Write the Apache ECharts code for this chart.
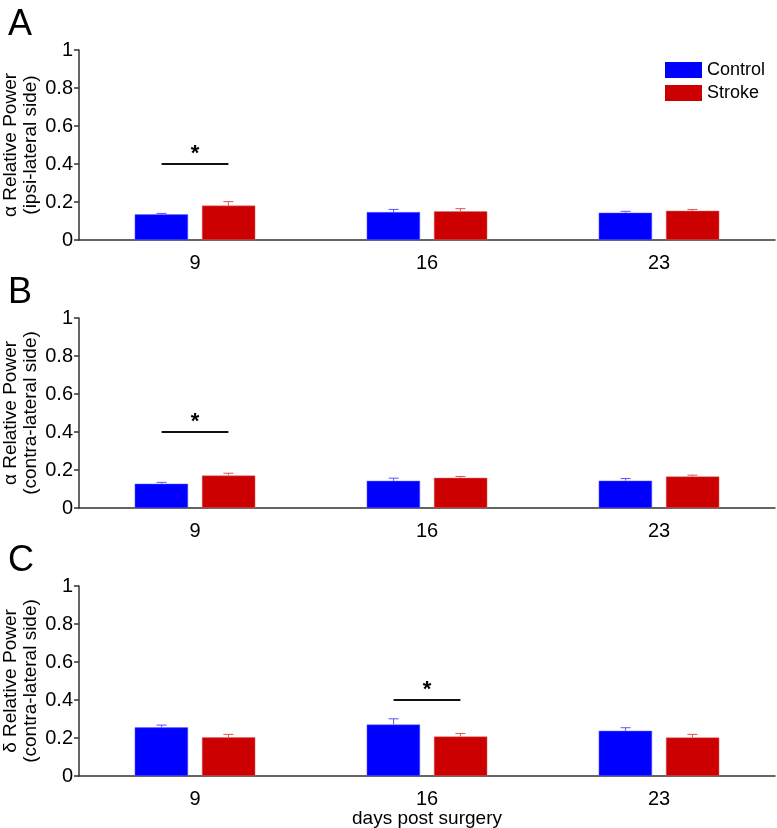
<!DOCTYPE html>
<html>
<head>
<meta charset="utf-8">
<script src="https://cdn.jsdelivr.net/npm/echarts@6/dist/echarts.min.js"></script>
<style>
html,body{margin:0;padding:0;background:#fff;}
#chart{width:777px;height:828px;}
</style>
</head>
<body>
<div id="chart"></div>
<script>
var days = ['9', '16', '23'];
var yTicks = [0, 0.2, 0.4, 0.6, 0.8, 1];

var alphaIpsiControl = [0.135, 0.147, 0.144];
var alphaIpsiControlErr = [0.005, 0.014, 0.007];
var alphaIpsiStroke = [0.181, 0.151, 0.154];
var alphaIpsiStrokeErr = [0.021, 0.014, 0.007];

var alphaContraControl = [0.128, 0.143, 0.144];
var alphaContraControlErr = [0.007, 0.014, 0.011];
var alphaContraStroke = [0.171, 0.159, 0.166];
var alphaContraStrokeErr = [0.012, 0.007, 0.007];

var deltaContraControl = [0.256, 0.271, 0.238];
var deltaContraControlErr = [0.012, 0.030, 0.016];
var deltaContraStroke = [0.204, 0.208, 0.203];
var deltaContraStrokeErr = [0.015, 0.016, 0.016];

// significance: which day, at which height
var sigDay = [0, 0, 1];
var sigLevel = [0.4, 0.4, 0.4];

var panelLetters = ['A', 'B', 'C'];
var panelNames = [
	'\u03b1 Relative Power\n(ipsi-lateral side)',
	'\u03b1 Relative Power\n(contra-lateral side)',
	'\u03b4 Relative Power\n(contra-lateral side)'
];

var FONT = "'Liberation Sans', Arial, sans-serif";
var BLUE = '#0000ff';
var RED = '#cc0000';
var OFFSET = 0.144; // bar centre offset, fraction of the band

var Chart = {
	init: function () {
		var myChart = echarts.init(document.getElementById('chart'));
		var panels = [
			[alphaIpsiControl, alphaIpsiControlErr, alphaIpsiStroke, alphaIpsiStrokeErr],
			[alphaContraControl, alphaContraControlErr, alphaContraStroke, alphaContraStrokeErr],
			[deltaContraControl, deltaContraControlErr, deltaContraStroke, deltaContraStrokeErr]
		];
		var tops = [50, 318, 586];
		var grids = [], xAxes = [], yAxes = [], series = [], graphics = [];

		panels.forEach(function (p, i) {
			grids.push({left: 79, right: 2, top: tops[i], height: 190,
				containLabel: false, outerBoundsMode: 'none'});
			xAxes.push({
				type: 'category', gridIndex: i, data: days,
				axisLine: {lineStyle: {color: '#333', width: 1.5}},
				axisTick: {alignWithLabel: true, length: 5, lineStyle: {color: '#333', width: 1.5}},
				axisLabel: {color: '#000', fontFamily: FONT, fontSize: 20, margin: 13},
				name: i === 2 ? 'days post surgery' : '',
				nameLocation: 'middle', nameGap: 33, nameMoveOverlap: false,
				nameTextStyle: {color: '#000', fontFamily: FONT, fontSize: 19}
			});
			yAxes.push({
				type: 'value', gridIndex: i, min: 0, max: 1, interval: 0.2,
				splitLine: {show: false},
				axisLine: {show: true, lineStyle: {color: '#333', width: 1.5}},
				axisTick: {show: true, length: 5, lineStyle: {color: '#333', width: 1.5}},
				axisLabel: {
					color: '#000', fontFamily: FONT, fontSize: 20, margin: 6,
					formatter: function (v) { return yTicks.indexOf(v) >= 0 ? String(v) : ''; }
				},
				name: panelNames[i], nameLocation: 'middle', nameRotate: 90, nameGap: 38,
				nameMoveOverlap: false,
				nameTextStyle: {color: '#000', fontFamily: FONT, fontSize: 19, lineHeight: 20}
			});

			series.push({
				name: 'Control', type: 'bar', xAxisIndex: i, yAxisIndex: i,
				data: p[0], barWidth: '23%', barGap: '26%',
				itemStyle: {color: BLUE, borderColor: '#6a6aff', borderWidth: 0.5}
			});
			series.push({
				name: 'Stroke', type: 'bar', xAxisIndex: i, yAxisIndex: i,
				data: p[2], barWidth: '23%', barGap: '26%',
				itemStyle: {color: RED, borderColor: '#e07070', borderWidth: 0.5}
			});
			series.push(Chart.errorSeries(i, p[0], p[1], -1, '#5555ff'));
			series.push(Chart.errorSeries(i, p[2], p[3], 1, '#dd5555'));
			series.push(Chart.sigSeries(i));

			graphics.push({
				type: 'text', left: 8, top: 7 + tops[i] - 50,
				style: {text: panelLetters[i], fill: '#000', font: '36px ' + FONT}
			});
		});

		var option = {
			animation: false,
			grid: grids,
			xAxis: xAxes,
			yAxis: yAxes,
			legend: {
				data: ['Control', 'Stroke'], orient: 'vertical',
				left: 665, top: 61, itemWidth: 37, itemHeight: 16, itemGap: 5,
				padding: 0, icon: 'rect', selectedMode: false,
				itemStyle: {borderWidth: 0},
				textStyle: {color: '#000', fontFamily: FONT, fontSize: 18}
			},
			graphic: graphics,
			series: series
		};
		window.addEventListener("resize", function () {
			myChart.resize();
		});
		myChart.setOption(option, true);
	},

	errorSeries: function (i, means, errs, side, color) {
		return {
			type: 'custom', xAxisIndex: i, yAxisIndex: i, z: 5, silent: true,
			data: means.map(function (m, k) { return [k, m, errs[k]]; }),
			renderItem: function (params, api) {
				var base = api.coord([api.value(0), api.value(1)]);
				var top = api.coord([api.value(0), api.value(1) + api.value(2)]);
				var band = api.size([1, 0])[0];
				var x = base[0] + side * band * OFFSET;
				var st = {stroke: color, lineWidth: 1};
				return {
					type: 'group', children: [
						{type: 'line', shape: {x1: x, y1: base[1], x2: x, y2: top[1]}, style: st},
						{type: 'line', shape: {x1: x - 5, y1: top[1], x2: x + 5, y2: top[1]}, style: st}
					]
				};
			}
		};
	},

	sigSeries: function (i) {
		return {
			type: 'custom', xAxisIndex: i, yAxisIndex: i, z: 5, silent: true,
			data: [[sigDay[i], sigLevel[i]]],
			renderItem: function (params, api) {
				var c = api.coord([api.value(0), api.value(1)]);
				var band = api.size([1, 0])[0];
				var d = band * OFFSET;
				return {
					type: 'group', children: [
						{type: 'line', shape: {x1: c[0] - d, y1: c[1], x2: c[0] + d, y2: c[1]},
							style: {stroke: '#111', lineWidth: 2}},
						{type: 'text', x: c[0], y: c[1] + 1,
							style: {text: '*', fill: '#000', font: 'bold 22px ' + FONT,
								align: 'center', verticalAlign: 'bottom'}}
					]
				};
			}
		};
	}
};

Chart.init();
</script>
</body>
</html>
